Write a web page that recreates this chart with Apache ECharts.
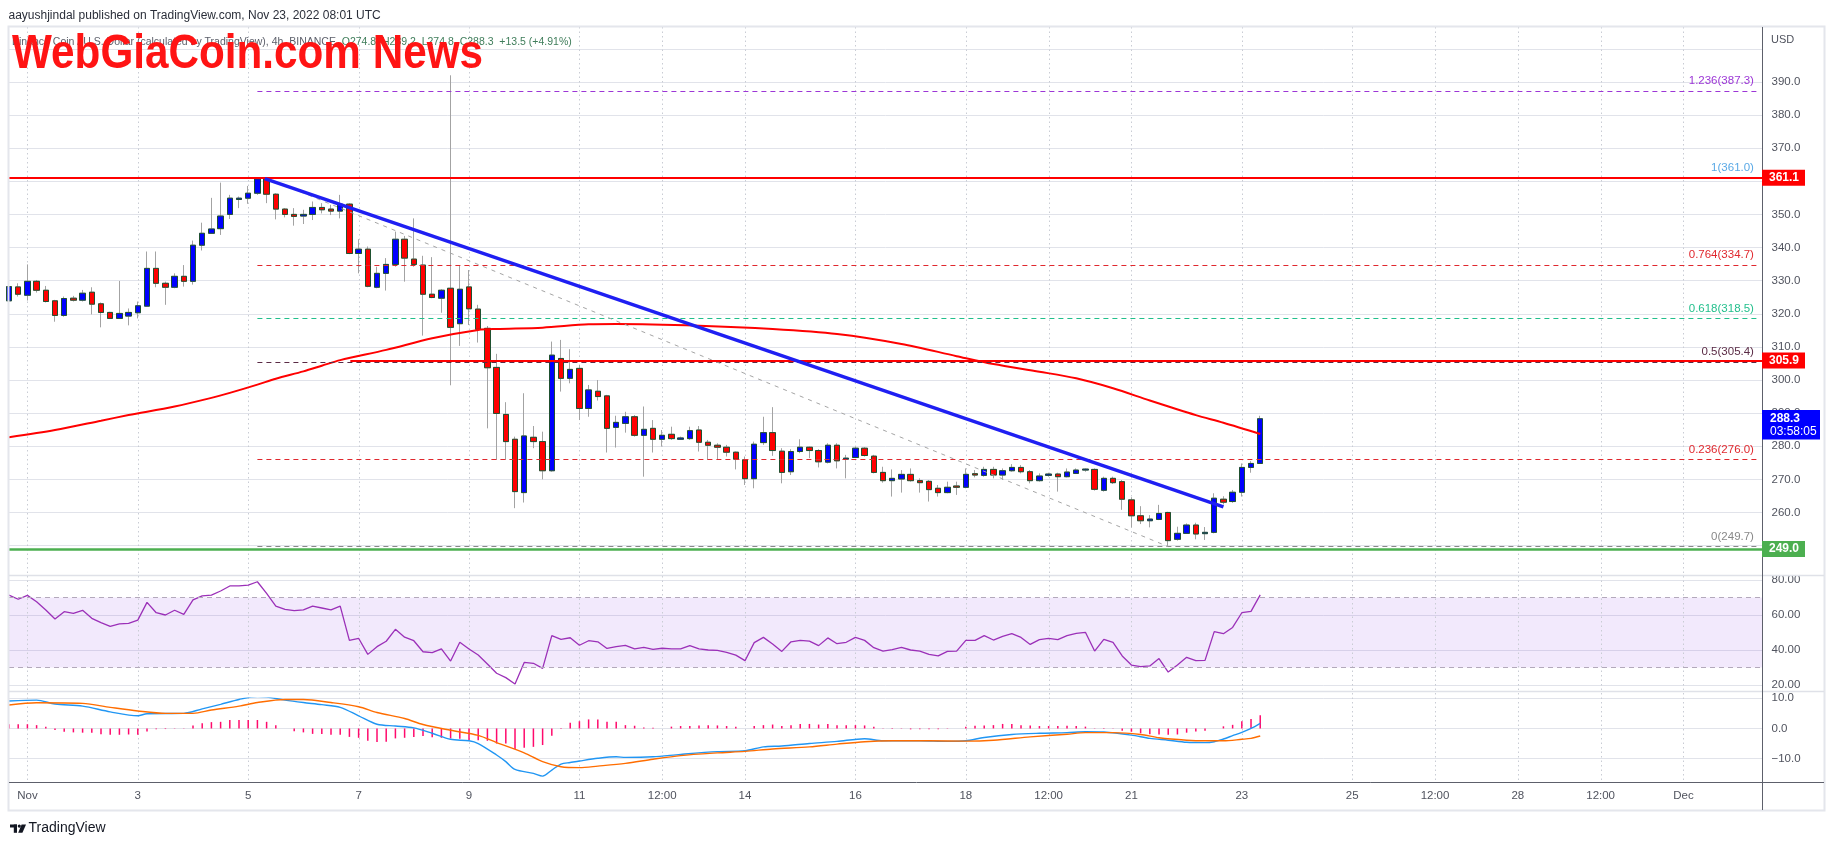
<!DOCTYPE html>
<html>
<head>
<meta charset="utf-8">
<title>BNB / USD 4h</title>
<script src="https://cdn.jsdelivr.net/npm/echarts@6/dist/echarts.min.js"></script>
<style>
  html, body { margin: 0; padding: 0; background: #fff; }
  #main { width: 1834px; height: 845px; }
</style>
</head>
<body>
<div id="main"></div>
<script>
  // 4h candles, Oct 31 16:00 -> Nov 23 08:00 (index 0..136)
  const opens = [
    323.9, 328.1, 325.6, 329.8, 327.1, 323.9, 319.5, 324.7, 324.1, 326.5,
    323.0, 320.4, 318.6, 319.3, 320.3, 322.3, 333.7, 329.2, 328.0, 331.3,
    329.8, 340.7, 344.3, 345.7, 350.0, 354.5, 354.9, 356.4, 360.7, 356.1,
    351.6, 350.0, 349.5, 350.0, 352.1, 351.6, 351.0, 353.1, 338.2, 339.5,
    328.0, 332.2, 334.9, 342.5, 336.5, 334.7, 325.9, 324.7, 327.7, 317.0,
    328.1, 321.4, 315.6, 303.8, 289.6, 282.1, 266.0, 282.7, 281.4, 272.6,
    306.5, 300.5, 303.5, 291.4, 296.6, 295.2, 285.7, 286.9, 288.9, 283.3,
    285.4, 282.1, 283.6, 282.1, 282.3, 284.9, 281.2, 280.3, 279.7, 278.2,
    275.9, 270.2, 281.1, 284.1, 278.5, 272.3, 278.4, 279.7, 278.7, 275.2,
    280.3, 276.1, 276.6, 279.4, 277.0, 272.1, 269.6, 270.1, 271.5, 269.6,
    269.4, 267.3, 266.0, 268.0, 267.6, 271.7, 271.2, 273.0, 271.3, 272.6,
    273.6, 272.3, 269.6, 271.2, 271.6, 270.8, 271.8, 272.8, 273.0, 266.7,
    270.3, 269.3, 263.8, 259.0, 257.5, 257.9, 260.0, 251.9, 253.7, 256.2,
    253.6, 254.0, 264.0, 263.3, 266.1, 273.6, 274.8
  ];
  const highs = [
    328.7, 329.2, 334.9, 330.2, 328.4, 324.2, 325.2, 325.4, 327.2, 328.0,
    323.4, 320.6, 329.9, 321.6, 323.7, 338.8, 338.8, 329.7, 332.2, 334.7,
    342.1, 347.5, 355.0, 359.6, 355.9, 355.4, 358.6, 360.9, 361.0, 356.4,
    351.9, 351.9, 351.4, 353.9, 353.4, 352.9, 355.9, 353.4, 342.5, 340.3,
    334.2, 336.8, 344.8, 343.5, 348.8, 337.5, 337.1, 327.4, 392.0, 334.7,
    333.2, 322.7, 316.3, 307.9, 293.3, 282.9, 296.0, 286.1, 284.4, 311.6,
    312.1, 309.3, 304.5, 298.5, 300.0, 295.5, 289.2, 290.4, 289.4, 292.0,
    287.9, 284.9, 285.9, 282.9, 285.9, 286.1, 281.9, 280.9, 280.4, 278.4,
    276.9, 281.4, 288.9, 291.8, 279.4, 279.1, 282.1, 279.9, 279.1, 280.9,
    280.9, 277.4, 279.9, 279.7, 277.4, 273.8, 273.0, 272.8, 273.3, 270.3,
    269.8, 268.3, 269.3, 269.3, 273.3, 272.8, 273.8, 273.8, 273.3, 274.6,
    274.3, 272.8, 271.8, 272.0, 272.0, 273.3, 273.3, 273.3, 273.3, 270.8,
    270.8, 269.8, 264.6, 261.9, 259.2, 262.3, 260.2, 255.7, 256.7, 256.9,
    255.6, 265.8, 264.9, 266.8, 274.8, 275.5, 289.2
  ];
  const lows = [
    323.4, 325.2, 324.0, 326.4, 323.4, 317.6, 319.1, 323.7, 323.7, 319.8,
    315.9, 318.4, 318.5, 316.5, 318.6, 322.2, 328.0, 322.7, 327.7, 328.2,
    328.8, 339.1, 344.1, 343.8, 348.6, 351.9, 353.2, 355.9, 353.4, 348.5,
    349.1, 346.6, 347.1, 348.3, 350.3, 349.8, 348.8, 338.0, 332.2, 328.0,
    327.7, 327.0, 334.2, 329.7, 334.2, 313.4, 324.7, 320.3, 298.4, 310.3,
    316.6, 311.3, 285.4, 275.9, 275.9, 261.3, 263.0, 279.4, 270.0, 272.3,
    296.5, 299.0, 287.9, 288.9, 293.8, 278.1, 279.6, 284.1, 282.9, 270.8,
    278.1, 279.9, 281.9, 281.9, 281.9, 278.4, 275.9, 275.9, 276.9, 273.0,
    268.3, 267.3, 280.4, 277.1, 268.8, 271.3, 277.9, 276.4, 273.6, 274.8,
    273.3, 270.3, 276.4, 276.9, 271.8, 269.0, 264.8, 266.0, 269.3, 266.0,
    263.3, 264.8, 265.8, 265.3, 267.3, 270.6, 270.8, 270.3, 269.8, 272.3,
    271.8, 268.8, 269.3, 270.8, 266.3, 270.6, 271.6, 272.3, 266.6, 266.3,
    268.6, 260.8, 255.5, 256.5, 255.5, 257.7, 249.7, 251.5, 253.5, 251.9,
    251.7, 253.7, 262.4, 262.9, 264.8, 272.0, 274.8
  ];
  const closes = [
    328.2, 325.9, 329.8, 327.1, 323.7, 319.5, 324.6, 324.1, 326.2, 322.9,
    320.4, 318.6, 320.1, 320.4, 322.4, 333.7, 329.2, 328.0, 331.3, 329.8,
    340.7, 344.3, 345.6, 349.5, 354.9, 354.9, 356.4, 360.7, 356.1, 351.6,
    350.0, 349.4, 350.0, 352.1, 351.4, 351.0, 353.1, 338.2, 339.5, 328.3,
    332.2, 334.9, 342.5, 336.8, 334.9, 325.9, 324.9, 327.1, 315.9, 327.4,
    321.5, 315.3, 303.7, 289.9, 281.4, 266.3, 283.1, 281.4, 272.6, 307.5,
    300.5, 303.2, 291.4, 297.0, 295.0, 285.4, 287.2, 288.9, 283.3, 285.1,
    282.1, 283.3, 282.3, 282.5, 284.7, 281.2, 280.3, 279.7, 278.2, 276.1,
    270.2, 280.6, 284.1, 278.7, 272.1, 278.4, 279.7, 278.7, 275.3, 280.3,
    275.6, 276.4, 279.4, 277.2, 272.1, 269.6, 270.3, 271.5, 269.6, 269.0,
    266.9, 266.0, 267.6, 267.6, 271.5, 271.3, 273.0, 271.3, 272.6, 273.6,
    272.3, 269.6, 271.0, 271.6, 270.8, 272.2, 272.8, 273.1, 267.0, 270.3,
    269.0, 264.0, 259.0, 257.5, 258.0, 259.7, 251.5, 253.7, 256.2, 253.5,
    254.0, 264.3, 263.1, 266.1, 273.6, 274.8, 288.3
  ];

  // red moving average, read at [bar index, price]
  const maPoints = [
    [0, 282.7], [5, 284.9], [10, 287.7], [13, 289.4], [18, 292.0], [22, 294.6],
    [24, 296.1], [27, 298.6], [29, 300.4], [32, 302.6], [34, 304.3], [36, 306.0],
    [41, 309.1], [46, 312.6], [51, 315.1], [53, 315.4], [58, 315.8], [63, 316.8],
    [66, 316.9], [75, 316.4], [83, 315.4], [90, 313.9], [97, 310.9], [103, 307.2],
    [107, 304.8], [112, 302.5], [116, 300.5], [120, 297.5], [124, 293.8],
    [129, 289.4], [132, 287.1], [136, 283.7]
  ];

  const rsiValues = [
    71.4, 69.0, 71.2, 67.6, 62.9, 57.7, 61.9, 60.9, 62.7, 58.1,
    55.6, 53.5, 54.9, 55.2, 57.1, 67.2, 61.3, 60.0, 62.7, 60.4,
    68.6, 70.9, 71.4, 73.7, 76.6, 76.6, 77.1, 79.0, 72.4, 65.1,
    63.2, 62.5, 62.9, 65.1, 64.0, 62.9, 65.1, 45.5, 46.7, 37.5,
    41.9, 45.0, 51.8, 47.3, 45.3, 39.0, 38.5, 40.6, 33.7, 44.4,
    40.6, 37.1, 32.0, 26.7, 24.2, 20.6, 32.9, 32.4, 29.5, 48.2,
    46.1, 47.0, 42.7, 45.3, 44.7, 40.9, 41.9, 42.7, 40.6, 41.5,
    40.4, 41.0, 40.6, 40.6, 42.5, 40.6, 40.0, 39.8, 38.7, 37.1,
    33.9, 44.2, 47.2, 43.4, 39.2, 44.7, 45.5, 45.1, 42.5, 46.9,
    43.6, 44.4, 47.2, 45.5, 41.3, 39.4, 40.2, 41.5, 40.0, 39.4,
    37.5, 36.6, 39.2, 39.4, 45.5, 45.5, 48.2, 45.7, 47.8, 49.3,
    47.2, 43.2, 45.9, 46.7, 45.9, 48.2, 49.5, 50.1, 39.4, 46.1,
    44.4, 36.6, 31.4, 30.5, 30.9, 35.1, 27.4, 31.4, 35.8, 33.9,
    34.1, 50.5, 49.3, 52.9, 61.3, 62.1, 71.5
  ];

  const macdPoints = [
    [0, 9.1], [3, 9.4], [5, 8.1], [8, 7.4], [11, 5.5], [14, 4.2], [15, 4.9],
    [19, 5.0], [21, 6.5], [23, 8.0], [25, 9.6], [27, 10.6], [28, 10.4], [30, 9.4],
    [32, 8.6], [34, 7.9], [36, 7.0], [38, 4.2], [40, 1.4], [42, 0.8], [44, 0.2],
    [46, -1.6], [48, -3.6], [50, -4.1], [51, -5.0], [53, -8.8], [54, -11.0],
    [55, -13.6], [57, -14.9], [58, -15.8], [59, -13.8], [60, -11.8], [61, -11.3],
    [62, -10.8], [64, -9.9], [66, -9.4], [67, -9.6], [70, -9.4], [73, -8.6],
    [77, -7.7], [80, -7.4], [82, -6.1], [84, -5.8], [87, -5.0], [90, -4.3],
    [93, -3.4], [95, -4.1], [99, -4.1], [102, -4.3], [104, -4.1], [106, -3.0],
    [109, -2.0], [112, -1.6], [115, -1.4], [117, -1.1], [119, -1.2], [122, -2.2],
    [124, -3.3], [126, -3.9], [128, -4.6], [130, -4.7], [131, -4.4], [132, -3.5],
    [133, -2.4], [134, -1.3], [135, 0.0], [136, 1.7]
  ];
  const signalPoints = [
    [0, 7.8], [3, 8.5], [8, 8.3], [11, 7.0], [14, 5.8], [17, 5.0], [20, 5.0],
    [22, 6.1], [25, 7.4], [27, 8.6], [30, 9.6], [32, 9.6], [35, 8.6], [38, 7.2],
    [40, 5.3], [43, 3.3], [45, 1.3], [48, -0.6], [51, -2.3], [53, -4.7],
    [56, -8.1], [58, -11.0], [60, -12.7], [62, -13.0], [64, -12.5], [67, -11.6],
    [70, -10.2], [73, -9.0], [77, -8.1], [80, -7.6], [83, -6.8], [87, -6.1],
    [90, -5.2], [93, -4.4], [96, -4.1], [100, -4.1], [104, -4.2], [107, -3.9],
    [111, -2.8], [115, -1.9], [117, -1.4], [120, -1.4], [123, -2.0], [125, -3.1],
    [128, -3.9], [130, -4.1], [132, -4.1], [134, -3.6], [135, -3.3], [136, -2.5]
  ];
  const histValues = [
    1.4, 1.4, 1.4, 1.1, 0.55, -0.55, -1.1, -1.3, -1.4, -1.4,
    -1.9, -2.1, -2.1, -2.0, -2.1, -1.0, -0.3, -0.2, -0.1, -0.1,
    1.0, 1.7, 2.1, 2.2, 2.8, 2.8, 2.8, 2.8, 2.2, 1.1,
    0.0, -0.9, -1.3, -1.8, -1.8, -2.1, -2.1, -2.8, -3.1, -4.1,
    -4.5, -4.4, -3.3, -3.1, -2.8, -2.5, -2.9, -3.1, -3.3, -3.4,
    -3.9, -3.9, -4.1, -5.0, -5.0, -6.8, -6.4, -6.1, -5.5, -2.4,
    -0.2, 1.9, 2.4, 3.0, 3.0, 2.2, 2.2, 1.1, 0.9, 0.3,
    0.2, 0.0, 0.6, 0.8, 0.8, 1.0, 1.1, 1.0, 0.8, 0.6,
    0.0, 0.8, 1.1, 1.3, 0.8, 1.1, 1.5, 1.5, 1.3, 1.5,
    1.1, 1.1, 1.1, 1.0, 0.6, -0.1, -0.2, -0.1, -0.3, -0.3,
    -0.3, -0.3, -0.1, 0.0, 0.6, 0.9, 1.0, 1.1, 1.5, 1.5,
    1.1, 1.0, 0.8, 0.8, 0.8, 0.9, 0.8, 0.6, -0.1, -0.2,
    -0.1, -0.8, -1.1, -1.6, -1.9, -2.0, -2.1, -2.0, -1.4, -1.0,
    -0.8, 0.0, 0.7, 1.2, 2.4, 3.1, 4.4
  ];

  // time axis labels at bar index
  const xTickIdx = [2, 14, 26, 38, 50, 62, 71, 80, 92, 104, 113, 122, 134, 146, 155, 164, 173, 182];
  const xTickText = ['Nov', '3', '5', '7', '9', '11', '12:00', '14', '16', '18', '12:00', '21', '23', '25', '12:00', '28', '12:00', 'Dec'];

  // fibonacci retracement levels: [ratio, price, colour]
  const fibLevels = [
    ['1.236', 387.3, '#9c36d6'],
    ['1', 361.0, '#5aa9e6'],
    ['0.764', 334.7, '#e0282e'],
    ['0.618', 318.5, '#22bf8c'],
    ['0.5', 305.4, '#5a2b45'],
    ['0.236', 276.0, '#e0282e'],
    ['0', 249.7, '#888888']
  ];
  const resistanceHigh = 361.1;
  const resistanceMid = 305.9;
  const supportLow = 249.0;
  const trendLine = [[27.8, 360.8], [132, 261.7]];
  const fibDiagonal = [[28, 361.0], [126, 249.7]];
  const lastPrice = 288.3;
  const countdown = '03:58:05';

  const FONT = '"Liberation Sans", Arial, sans-serif';
  const AXIS_TXT = '#50535e';
  const XMAX = 190.54;

  const wickData = opens.map((o, i) => [i, o, closes[i], lows[i], highs[i]]);
  const bodyData = opens.map((o, i) => [i, o, closes[i], Math.min(o, closes[i]), Math.max(o, closes[i])]);

  const fibMarks = fibLevels.map(([r, v, c]) => [
    {
      coord: [27, v],
      lineStyle: { color: c, width: 1, type: [5, 4] },
      label: {
        show: true, position: 'insideEndTop', distance: 4,
        formatter: r + '(' + v.toFixed(1) + ')',
        color: c, fontSize: 11.5, fontFamily: FONT
      }
    },
    { coord: [190.1, v] }
  ]);

  const chart = echarts.init(document.getElementById('main'));

  const option = {
    animation: false,
    backgroundColor: '#ffffff',
    grid: [
      { left: 9, right: 72, top: 15.7, height: 563, outerBoundsMode: 'none' },
      { left: 9, right: 72, top: 580, height: 105, outerBoundsMode: 'none' },
      { left: 9, right: 72, top: 698.3, height: 90.45, outerBoundsMode: 'none' }
    ],
    xAxis: [0, 1, 2].map(g => ({
      type: 'value', gridIndex: g, min: 0, max: XMAX,
      axisLine: { show: false }, axisTick: { show: false }, splitLine: { show: false },
      axisLabel: g === 2 ? {
        show: true,
        customValues: xTickIdx,
        formatter: v => xTickText[xTickIdx.indexOf(Math.round(v))] || '',
        margin: 1, color: AXIS_TXT, fontSize: 11.5, fontFamily: FONT
      } : { show: false }
    })),
    yAxis: [
      {
        gridIndex: 0, position: 'right', min: 240, max: 410, interval: 10,
        axisLine: { show: false }, axisTick: { show: false },
        splitLine: { lineStyle: { color: '#e1e3ea' }, showMinLine: false, showMaxLine: false },
        axisLabel: {
          margin: 9.5, color: AXIS_TXT, fontSize: 11.5, fontFamily: FONT,
          showMinLabel: false, showMaxLabel: false,
          formatter: v => v === 400 ? '' : v.toFixed(1)
        }
      },
      {
        gridIndex: 1, position: 'right', min: 20, max: 80, interval: 20,
        axisLine: { show: false }, axisTick: { show: false },
        splitLine: { lineStyle: { color: '#e1e3ea' } },
        axisLabel: { margin: 9.5, color: AXIS_TXT, fontSize: 11.5, fontFamily: FONT, formatter: v => v.toFixed(2) }
      },
      {
        gridIndex: 2, position: 'right', min: -20, max: 10, interval: 10,
        axisLine: { show: false }, axisTick: { show: false },
        splitLine: { lineStyle: { color: '#e1e3ea' }, showMinLine: false },
        axisLabel: {
          margin: 9.5, color: AXIS_TXT, fontSize: 11.5, fontFamily: FONT, showMinLabel: false,
          formatter: v => (v < 0 ? '\u2212' + Math.abs(v).toFixed(1) : v.toFixed(1))
        }
      }
    ],
    series: [
      {
        name: 'wicks', type: 'candlestick', xAxisIndex: 0, yAxisIndex: 0,
        data: wickData, encode: { x: 0, y: [1, 2, 3, 4] }, barWidth: 6,
        itemStyle: { color: '#0000ff', color0: '#ff0000', borderColor: '#a3a3a3', borderColor0: '#a3a3a3', borderWidth: 1 },
        z: 2
      },
      {
        name: 'bodies', type: 'candlestick', xAxisIndex: 0, yAxisIndex: 0,
        data: bodyData, encode: { x: 0, y: [1, 2, 3, 4] }, barWidth: 6,
        itemStyle: { color: '#0000ff', color0: '#ff0000', borderColor: '#1f5130', borderColor0: '#1f5130', borderWidth: 1 },
        z: 3
      },
      {
        name: 'MA', type: 'line', xAxisIndex: 0, yAxisIndex: 0,
        data: maPoints, smooth: 0.3, showSymbol: false,
        lineStyle: { color: '#ff0000', width: 2 }, z: 4
      },
      {
        name: 'drawings', type: 'line', xAxisIndex: 0, yAxisIndex: 0, data: [], z: 5,
        markLine: {
          silent: true, symbol: ['none', 'none'], animation: false,
          label: { show: false },
          data: [
            ...fibMarks,
            [{ coord: fibDiagonal[0], lineStyle: { color: '#a5a5a5', width: 1, type: [4, 5] } }, { coord: fibDiagonal[1] }],
            { yAxis: resistanceHigh, lineStyle: { color: '#ff0000', width: 2, type: 'solid' } },
            [{ coord: [37.1, resistanceMid], lineStyle: { color: '#ff0000', width: 2, type: 'solid' } }, { coord: [XMAX, resistanceMid] }],
            { yAxis: supportLow, lineStyle: { color: '#4caf50', width: 2.5, type: 'solid' } },
            [{ coord: trendLine[0], lineStyle: { color: '#1f1ff2', width: 3.5, type: 'solid' } }, { coord: trendLine[1] }]
          ]
        }
      },
      {
        name: 'RSI', type: 'line', xAxisIndex: 1, yAxisIndex: 1,
        data: rsiValues.map((v, i) => [i, v]), showSymbol: false,
        lineStyle: { color: '#9b30b8', width: 1.3 },
        markArea: { silent: true, itemStyle: { color: 'rgba(149,76,233,0.12)' }, data: [[{ yAxis: 70 }, { yAxis: 30 }]] },
        markLine: {
          silent: true, symbol: ['none', 'none'], label: { show: false },
          lineStyle: { color: '#b3a9bb', width: 1, type: [5, 4] },
          data: [{ yAxis: 70 }, { yAxis: 30 }]
        }
      },
      {
        name: 'Histogram', type: 'bar', xAxisIndex: 2, yAxisIndex: 2,
        data: histValues.map((v, i) => [i, v]), barWidth: 1.5,
        itemStyle: { color: '#ff0a6c' }
      },
      {
        name: 'MACD', type: 'line', xAxisIndex: 2, yAxisIndex: 2,
        data: macdPoints, smooth: 0.3, showSymbol: false,
        lineStyle: { color: '#2196f3', width: 1.4 }
      },
      {
        name: 'Signal', type: 'line', xAxisIndex: 2, yAxisIndex: 2,
        data: signalPoints, smooth: 0.3, showSymbol: false,
        lineStyle: { color: '#ff6d00', width: 1.4 }
      }
    ]
  };
  chart.setOption(option);

  // overlay: grid lines, frame, price tags and page texts
  const ctx = document.createElement('canvas').getContext('2d');
  function textWidth(font, s) { ctx.font = font; return ctx.measureText(s).width; }
  const px = k => chart.convertToPixel({ xAxisIndex: 0 }, k);
  const py = v => chart.convertToPixel({ yAxisIndex: 0 }, v);

  const g = [];
  xTickIdx.forEach(k => {
    const x = Math.round(px(k)) + 0.5;
    g.push({ type: 'line', z: 1, silent: true, shape: { x1: x, y1: 27, x2: x, y2: 782 },
      style: { stroke: '#c9ccd4', lineWidth: 1, lineDash: [1.5, 3] } });
  });
  g.push({ type: 'rect', z: 55, silent: true, shape: { x: 8.5, y: 26.5, width: 1816, height: 784 },
    style: { fill: 'none', stroke: '#e4e6ec', lineWidth: 2 } });
  [575.5, 691.5].forEach(y => g.push({ type: 'line', z: 55, silent: true,
    shape: { x1: 9, y1: y, x2: 1824, y2: y }, style: { stroke: '#dfe1e8', lineWidth: 1.5 } }));
  g.push({ type: 'line', z: 55, silent: true, shape: { x1: 9, y1: 782.5, x2: 1824, y2: 782.5 },
    style: { stroke: '#5d606b', lineWidth: 1 } });
  g.push({ type: 'line', z: 55, silent: true, shape: { x1: 1762.5, y1: 27, x2: 1762.5, y2: 810 },
    style: { stroke: '#5d606b', lineWidth: 1 } });

  const tagFont = 'bold 12px ' + FONT;
  function priceTag(v, bg) {
    const y = py(v);
    g.push({ type: 'rect', z: 60, silent: true, shape: { x: 1762, y: y - 8, width: 43, height: 16 }, style: { fill: bg } });
    g.push({ type: 'text', z: 61, silent: true, x: 1769, y: y,
      style: { text: v.toFixed(1), font: tagFont, fill: '#ffffff', textVerticalAlign: 'middle', verticalAlign: 'middle' } });
  }
  priceTag(resistanceHigh, '#ff0000');
  priceTag(resistanceMid, '#ff0000');
  priceTag(supportLow, '#4caf50');
  const ly = py(lastPrice);
  g.push({ type: 'rect', z: 60, silent: true, shape: { x: 1762, y: ly - 8.7, width: 58, height: 29.5 }, style: { fill: '#0000ff' } });
  g.push({ type: 'text', z: 61, silent: true, x: 1770, y: ly,
    style: { text: lastPrice.toFixed(1), font: tagFont, fill: '#ffffff', textVerticalAlign: 'middle', verticalAlign: 'middle' } });
  g.push({ type: 'text', z: 61, silent: true, x: 1770, y: ly + 13,
    style: { text: countdown, font: '12px ' + FONT, fill: '#ffffff', textVerticalAlign: 'middle', verticalAlign: 'middle' } });

  g.push({ type: 'text', z: 60, silent: true, x: 1771, y: 40,
    style: { text: 'USD', font: '11px ' + FONT, fill: AXIS_TXT, textVerticalAlign: 'middle', verticalAlign: 'middle' } });

  g.push({ type: 'text', z: 60, silent: true, x: 8.5, y: 15.5,
    style: { text: 'aayushjindal published on TradingView.com, Nov 23, 2022 08:01 UTC', font: '12px ' + FONT,
      fill: '#2a2e39', textVerticalAlign: 'middle', verticalAlign: 'middle' } });

  const legFont = '10.5px ' + FONT;
  const legGray = 'Binance Coin / U.S. Dollar (calculated by TradingView), 4h, BINANCE  ';
  const legGreen = 'O274.8  H289.2  L274.8  C288.3  +13.5 (+4.91%)';
  g.push({ type: 'text', z: 60, silent: true, x: 12, y: 42,
    style: { text: legGray, font: legFont, fill: '#5d606b', textVerticalAlign: 'middle', verticalAlign: 'middle' } });
  g.push({ type: 'text', z: 60, silent: true, x: 12 + textWidth(legFont, legGray), y: 42,
    style: { text: legGreen, font: legFont, fill: '#3f7d5a', textVerticalAlign: 'middle', verticalAlign: 'middle' } });

  const wmFont = 'bold 48px "Liberation Sans Narrow", "Liberation Sans", sans-serif';
  const wmText = 'WebGiaCoin.com News';
  const wmScale = 471 / textWidth(wmFont, wmText);
  g.push({ type: 'text', z: 70, silent: true, x: 12, y: 55, scaleX: wmScale,
    style: { text: wmText, font: wmFont, fill: '#ff1414', textVerticalAlign: 'middle', verticalAlign: 'middle' } });

  // TradingView logo
  g.push({ type: 'rect', z: 60, silent: true, shape: { x: 10, y: 824.5, width: 7, height: 3 }, style: { fill: '#131722' } });
  g.push({ type: 'rect', z: 60, silent: true, shape: { x: 13.8, y: 824.5, width: 3.2, height: 8.3 }, style: { fill: '#131722' } });
  g.push({ type: 'circle', z: 60, silent: true, shape: { cx: 19.3, cy: 826.1, r: 1.6 }, style: { fill: '#131722' } });
  g.push({ type: 'polygon', z: 60, silent: true, shape: { points: [[21.6, 824.5], [26, 824.5], [22.4, 832.8], [18.2, 832.8]] }, style: { fill: '#131722' } });
  g.push({ type: 'text', z: 60, silent: true, x: 28.5, y: 828.3,
    style: { text: 'TradingView', font: '14px ' + FONT, fill: '#131722', textVerticalAlign: 'middle', verticalAlign: 'middle' } });

  chart.setOption({ graphic: g });
</script>
</body>
</html>
